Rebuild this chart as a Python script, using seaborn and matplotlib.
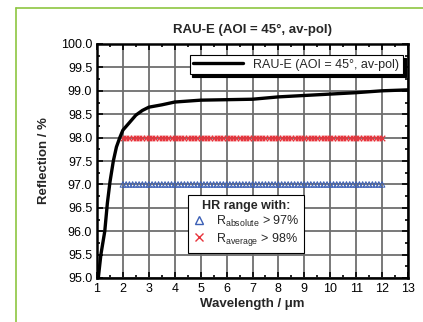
import numpy as np
import pandas as pd
import matplotlib
matplotlib.use("Agg")
import matplotlib.pyplot as plt
import seaborn as sns
from matplotlib.lines import Line2D
from matplotlib.ticker import MultipleLocator, FormatStrFormatter

wavelength = [1.05, 1.15, 1.3, 1.4, 1.5, 1.63, 1.75, 1.88, 2.0, 2.25, 2.5, 2.75,
              3.0, 3.5, 4.0, 4.5, 5.0, 6.0, 7.0, 8.0, 9.0, 10.0, 11.0, 12.0, 13.0]
reflection = [95.0, 95.5, 96.0, 96.6, 97.05, 97.5, 97.8, 98.0, 98.16, 98.32, 98.48, 98.58,
              98.65, 98.7, 98.76, 98.78, 98.8, 98.81, 98.82, 98.87, 98.9, 98.93, 98.96, 99.0, 99.02]

# HR range limits
hr_start, hr_end = 2.0, 12.0
r_absolute = 97.0
r_average = 98.0
n_markers = 81

curve_label = "RAU-E (AOI = 45°, av-pol)"

sns.set_style("ticks")
plt.rcParams['font.family'] = ['Liberation Sans', 'DejaVu Sans']
plt.rcParams['mathtext.default'] = 'regular'

df = pd.DataFrame({"wl": wavelength, "R": reflection})
hr_wl = np.linspace(hr_start, hr_end, n_markers)
hr = pd.DataFrame({"wl": hr_wl,
                   "abs": np.full(n_markers, r_absolute),
                   "avg": np.full(n_markers, r_average)})

fig = plt.figure(figsize=(4.23, 3.22), dpi=100)
ax = fig.add_axes([97 / 423, 1 - 278 / 322, 311 / 423, 234 / 322])

ax.grid(True, which="major", color="#6e6e6e", linewidth=1.3)
ax.set_axisbelow(True)

blue = "#3b5fb5"
red = "#e8333b"
sns.scatterplot(data=hr, x="wl", y="abs", marker="^", s=16, facecolors="none",
                edgecolor=blue, linewidth=0.7, ax=ax, zorder=3, legend=False)
sns.scatterplot(data=hr, x="wl", y="avg", marker="x", s=16, color=red,
                linewidth=0.9, ax=ax, zorder=3, legend=False)
sns.lineplot(data=df, x="wl", y="R", color="black", linewidth=2.4, ax=ax, zorder=4)

ax.set_xlim(1, 13)
ax.set_ylim(95, 100)
ax.xaxis.set_major_locator(MultipleLocator(1))
ax.xaxis.set_minor_locator(MultipleLocator(0.5))
ax.yaxis.set_major_locator(MultipleLocator(0.5))
ax.yaxis.set_minor_locator(MultipleLocator(0.25))
ax.yaxis.set_major_formatter(FormatStrFormatter("%.1f"))
ax.tick_params(which="both", direction="in", top=True, right=True, colors="black",
               labelsize=9, width=1.2)
ax.tick_params(which="major", length=4)
ax.tick_params(which="minor", length=2.5)
for s in ax.spines.values():
    s.set_linewidth(1.8)
    s.set_color("black")

ax.set_title(curve_label, fontsize=9.5, fontweight="bold", pad=8)
ax.set_xlabel("Wavelength / μm", fontsize=9.5, fontweight="bold", labelpad=2)
ax.set_ylabel("Reflection / %", fontsize=9.5, fontweight="bold", labelpad=8)

h1 = [Line2D([], [], color="black", linewidth=2.4)]
leg1 = ax.legend(h1, [curve_label], loc="upper right", bbox_to_anchor=(0.984, 0.953),
                 fontsize=9, fancybox=False, edgecolor="black", framealpha=1,
                 handlelength=4, borderpad=0.3, borderaxespad=0,
                 shadow={"color": "black", "alpha": 1})
leg1.get_frame().set_linewidth(0.8)
ax.add_artist(leg1)

h2 = [Line2D([], [], marker="^", linestyle="none", markerfacecolor="none",
             markeredgecolor=blue, markersize=6),
      Line2D([], [], marker="x", linestyle="none", color=red, markersize=6)]
labels2 = [r"R$_{absolute}$ > 97%", r"R$_{average}$ > 98%"]
leg2 = ax.legend(h2, labels2, title="HR range with:", loc="upper left",
                 bbox_to_anchor=(0.293, 0.355), fontsize=9, fancybox=False,
                 edgecolor="black", framealpha=1, handlelength=1, borderpad=0.4,
                 labelspacing=0.15, borderaxespad=0,
                 title_fontproperties={"weight": "bold", "size": 9})
leg2.get_frame().set_linewidth(0.8)

# green frame of the figure panel
green = "#8dc641"
fig.add_artist(Line2D([16 / 423, 16 / 423], [0, 1 - 8 / 322], color=green, linewidth=1.2,
                      transform=fig.transFigure))
fig.add_artist(Line2D([16 / 423, 1], [1 - 8 / 322, 1 - 8 / 322], color=green, linewidth=1.2,
                      transform=fig.transFigure))

fig.savefig("out.png", dpi=100)
